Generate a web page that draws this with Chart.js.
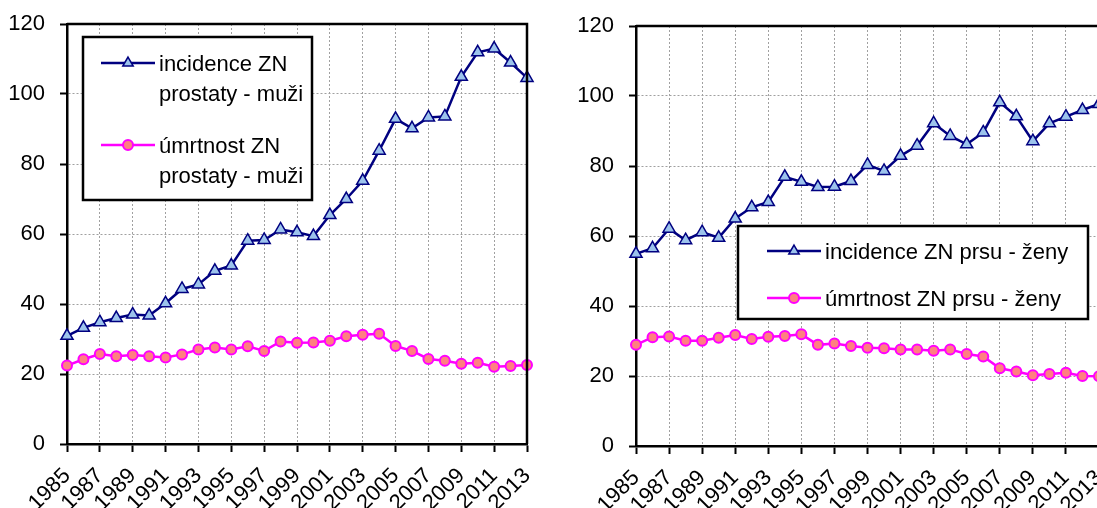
<!DOCTYPE html>
<html>
<head>
<meta charset="utf-8">
<script src="https://cdn.jsdelivr.net/npm/chart.js@4.4.1/dist/chart.umd.min.js"></script>
<style>
    html, body { margin: 0; padding: 0; background: #fff; overflow: hidden; width: 1097px; height: 508px; }
    canvas { position: absolute; top: 0; }
    #leftChart { left: 0; }
    #rightChart { left: 560px; }
</style>
</head>
<body>
<canvas id="leftChart" width="545" height="508"></canvas>
<canvas id="rightChart" width="560" height="508"></canvas>
<script>
// Categories (years)
const years = ["1985", "1986", "1987", "1988", "1989", "1990", "1991", "1992", "1993", "1994",
    "1995", "1996", "1997", "1998", "1999", "2000", "2001", "2002", "2003", "2004",
    "2005", "2006", "2007", "2008", "2009", "2010", "2011", "2012", "2013"];

// Prostate - men (per 100 000)
const prostateIncidence = [30.9, 33.2, 34.8, 36.0, 37.0, 36.7, 40.2, 44.3, 45.6, 49.5,
    51.0, 58.1, 58.3, 61.3, 60.5, 59.4, 65.4, 70.0, 75.2, 83.8,
    92.9, 90.2, 93.3, 93.6, 104.9, 111.9, 113.0, 109.0, 104.6];
const prostateMortality = [22.4, 24.2, 25.7, 25.1, 25.4, 25.1, 24.7, 25.6, 27.0, 27.6,
    27.0, 27.9, 26.6, 29.3, 28.9, 29.0, 29.5, 30.8, 31.2, 31.5,
    28.0, 26.6, 24.3, 23.8, 22.9, 23.2, 22.1, 22.3, 22.6];

// Breast - women (per 100 000)
const breastIncidence = [54.9, 56.5, 62.1, 58.8, 61.1, 59.5, 65.0, 68.2, 69.7, 76.9,
    75.5, 74.0, 74.1, 75.7, 80.3, 78.6, 82.9, 85.8, 92.2, 88.6,
    86.2, 89.6, 98.2, 94.2, 87.1, 92.2, 94.1, 96.0, 97.7];
const breastMortality = [28.9, 31.1, 31.3, 30.1, 30.1, 30.9, 31.7, 30.6, 31.2, 31.4,
    31.9, 28.9, 29.3, 28.6, 28.1, 27.9, 27.6, 27.6, 27.2, 27.6,
    26.3, 25.6, 22.2, 21.3, 20.2, 20.6, 20.9, 20.0, 19.9];

// Y axis ticks
const yTicks = [0, 20, 40, 60, 80, 100, 120];

// Legend texts
const prostateLegend = [["incidence ZN", "prostaty - muži"], ["úmrtnost ZN", "prostaty - muži"]];
const breastLegend = [["incidence ZN prsu - ženy"], ["úmrtnost ZN prsu - ženy"]];

const FONT = '"Liberation Sans", Arial, sans-serif';

function drawMarker(ctx, style, x, y, r, fill, stroke, bw) {
    ctx.beginPath();
    if (style === "triangle") {
        for (let k = 0; k < 3; k++) {
            const a = k * 2 * Math.PI / 3;
            const px = x + Math.sin(a) * r, py = y - Math.cos(a) * r;
            if (k === 0) ctx.moveTo(px, py); else ctx.lineTo(px, py);
        }
        ctx.closePath();
    } else {
        ctx.arc(x, y, r, 0, Math.PI * 2);
    }
    ctx.fillStyle = fill;
    ctx.fill();
    ctx.lineWidth = bw;
    ctx.strokeStyle = stroke;
    ctx.stroke();
}

// legend drawn as a framed box inside the plot
const boxLegend = {
    id: "boxLegend",
    afterDatasetsDraw(chart, args, opts) {
        const ctx = chart.ctx;
        ctx.save();
        ctx.fillStyle = "#fff";
        ctx.fillRect(opts.x, opts.y, opts.w, opts.h);
        ctx.lineWidth = 2.5;
        ctx.strokeStyle = "#000";
        ctx.strokeRect(opts.x, opts.y, opts.w, opts.h);
        opts.items.forEach((lines, i) => {
            const ds = chart.data.datasets[i];
            const y = opts.rowY[i];
            ctx.strokeStyle = ds.borderColor;
            ctx.lineWidth = ds.borderWidth;
            ctx.beginPath();
            ctx.moveTo(opts.lineX0, y);
            ctx.lineTo(opts.lineX1, y);
            ctx.stroke();
            drawMarker(ctx, ds.pointStyle, (opts.lineX0 + opts.lineX1) / 2, y, ds.pointStyle === "triangle" ? 6 : 5,
                ds.pointBackgroundColor, ds.pointBorderColor, ds.pointBorderWidth);
            ctx.fillStyle = "#000";
            ctx.font = "22px " + FONT;
            ctx.textBaseline = "alphabetic";
            ctx.textAlign = "left";
            lines.forEach((t, k) => ctx.fillText(t, opts.textX, y + 8 + k * 30));
        });
        ctx.restore();
    }
};

// top / right frame of the plot area
const plotFrame = {
    id: "plotFrame",
    afterDraw(chart) {
        const a = chart.chartArea, ctx = chart.ctx;
        ctx.save();
        ctx.strokeStyle = "#000";
        ctx.lineWidth = 2.5;
        ctx.beginPath();
        ctx.moveTo(a.left, a.top);
        ctx.lineTo(a.right, a.top);
        ctx.lineTo(a.right, a.bottom);
        ctx.stroke();
        ctx.restore();
    }
};

function makeChart(id, incidence, mortality, legendTexts, L) {
    const ctx = document.getElementById(id).getContext("2d");
    return new Chart(ctx, {
        type: "line",
        data: {
            labels: years,
            datasets: [
                {
                    label: legendTexts[0].join(" "),
                    data: incidence,
                    borderColor: "#000080",
                    borderWidth: 2.5,
                    pointStyle: "triangle",
                    pointRadius: 7,
                    pointBackgroundColor: "#9cc3ec",
                    pointBorderColor: "#000080",
                    pointBorderWidth: 1.5,
                    tension: 0,
                    clip: false,
                },
                {
                    label: legendTexts[1].join(" "),
                    data: mortality,
                    borderColor: "#ff00ff",
                    borderWidth: 2.5,
                    pointStyle: "circle",
                    pointRadius: 5,
                    pointBackgroundColor: "#ff8080",
                    pointBorderColor: "#ff00ff",
                    pointBorderWidth: 2,
                    tension: 0,
                    clip: false,
                },
            ],
        },
        options: {
            responsive: false,
            animation: false,
            devicePixelRatio: 1,
            layout: { padding: { top: L.top, right: L.right, left: 0, bottom: 0 } },
            plugins: {
                legend: { display: false },
                tooltip: { enabled: false },
                boxLegend: L.legend,
            },
            scales: {
                x: {
                    grid: {
                        color: (c) => (c.index % 2 === 0 ? "#a0a0a0" : "rgba(0,0,0,0)"),
                        lineWidth: 1,
                        tickColor: (c) => (c.index % 2 === 0 ? "#000" : "rgba(0,0,0,0)"),
                        tickLength: 8,
                        tickWidth: 2,
                    },
                    border: { color: "#000", width: 2.5, dash: [2, 2] },
                    ticks: {
                        autoSkip: false,
                        minRotation: 45,
                        maxRotation: 45,
                        padding: 11,
                        color: "#000",
                        font: { family: FONT, size: 22 },
                        callback: (v, i) => (i % 2 === 0 ? years[i] : ""),
                    },
                    afterFit: (s) => {
                        s.height = L.xh;
                        s.paddingLeft = 0;
                        s.paddingRight = 0;
                    },
                },
                y: {
                    min: yTicks[0],
                    max: yTicks[yTicks.length - 1],
                    grid: {
                        color: "#a0a0a0",
                        lineWidth: 1,
                        tickColor: "#000",
                        tickLength: 7,
                        tickWidth: 2,
                    },
                    border: { color: "#000", width: 2.5, dash: [2, 2] },
                    ticks: {
                        stepSize: yTicks[1] - yTicks[0],
                        padding: 15,
                        color: "#000",
                        font: { family: FONT, size: 22 },
                    },
                    afterFit: (s) => {
                        s.width = L.yw;
                        s.paddingTop = 0;
                        s.paddingBottom = 0;
                    },
                },
            },
        },
        plugins: [boxLegend, plotFrame],
    });
}

document.addEventListener("DOMContentLoaded", () => {
    makeChart("leftChart", prostateIncidence, prostateMortality, prostateLegend, {
        top: 24, right: 18, xh: 64, yw: 67,
        legend: {
            x: 83, y: 37, w: 229, h: 163,
            lineX0: 101, lineX1: 155, textX: 159,
            rowY: [63, 145],
            items: prostateLegend,
        },
    });
    makeChart("rightChart", breastIncidence, breastMortality, breastLegend, {
        top: 26, right: 21, xh: 62, yw: 76,
        legend: {
            x: 178, y: 226, w: 350, h: 93,
            lineX0: 207, lineX1: 261, textX: 265,
            rowY: [251, 298],
            items: breastLegend,
        },
    });
});
</script>
</body>
</html>
